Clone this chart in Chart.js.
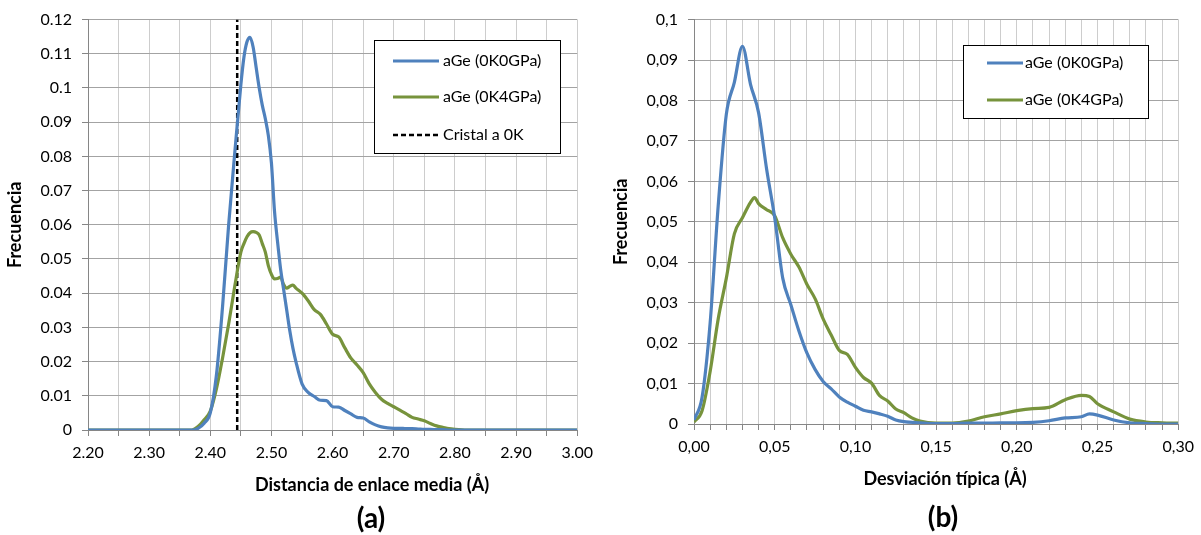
<!DOCTYPE html>
<html><head><meta charset="utf-8">
<script src="https://cdn.jsdelivr.net/npm/chart.js@4"></script>
<style>
html,body{margin:0;padding:0;background:#fff;width:1201px;height:535px;overflow:hidden;font-family:Lato,sans-serif;}
canvas{position:absolute;top:0;}
#cA{left:0}
#cB{left:600px}
.t{position:absolute;transform:translate(-50%,-50%);white-space:nowrap;color:#000;font-weight:bold;line-height:1;}
</style></head><body>
<canvas id="cA" width="600" height="500"></canvas>
<canvas id="cB" width="601" height="500"></canvas>
<div class="t" style="left:372px;top:484px;font-size:18px">Distancia de enlace media (Å)</div>
<div class="t" style="left:371px;top:517px;font-size:28px">(a)</div>
<div class="t" style="left:945px;top:478px;font-size:18px">Desviación típica (Å)</div>
<div class="t" style="left:943px;top:516px;font-size:28px">(b)</div>
<script>
// ---------- data (a) ----------
const seriesNames = ['aGe (0K0GPa)', 'aGe (0K4GPa)'];
const crystalName = 'Cristal a 0K';
const crystalX = 2.444;
const distA = [2.20,2.30,2.36,2.37,2.38,2.39,2.40,2.41,2.42,2.43,2.44,2.45,2.455,2.46,2.465,2.47,2.475,2.48,2.485,2.49,2.495,2.50,2.505,2.51,2.515,2.52,2.525,2.53,2.535,2.54,2.55,2.56,2.57,2.58,2.59,2.60,2.61,2.62,2.63,2.64,2.65,2.66,2.67,2.68,2.69,2.70,2.71,2.72,2.73,2.74,2.75,2.76,2.77,2.78,2.79,2.80,2.82,2.85,2.90,3.00];
const freqA0 = [0,0,0,0,0.0005,0.002,0.005,0.016,0.036,0.060,0.081,0.101,0.109,0.1135,0.1148,0.112,0.106,0.100,0.095,0.091,0.086,0.078,0.064,0.055,0.047,0.041,0.035,0.029,0.024,0.020,0.0135,0.011,0.0098,0.0087,0.0086,0.0068,0.0067,0.0057,0.0047,0.0037,0.0035,0.0024,0.0015,0.0009,0.0006,0.0005,0.0005,0.0004,0.0004,0.0003,0.0002,0.0002,0.0001,0.0001,0,0,0,0,0,0];
const freqA4 = [0,0,0,0,0.001,0.003,0.0055,0.012,0.021,0.031,0.042,0.052,0.0545,0.0565,0.0577,0.058,0.0578,0.057,0.0545,0.052,0.048,0.0455,0.0442,0.0443,0.0447,0.0425,0.0415,0.042,0.0424,0.0415,0.040,0.0378,0.0352,0.0338,0.031,0.028,0.0272,0.024,0.021,0.019,0.0168,0.0135,0.011,0.009,0.0078,0.0068,0.0058,0.0048,0.0037,0.0032,0.0027,0.0019,0.0012,0.0008,0.0004,0.0002,0,0,0,0];
// ---------- data (b) ----------
const devB0 = [0,0.005,0.01,0.015,0.02,0.025,0.03,0.035,0.04,0.045,0.05,0.055,0.06,0.065,0.07,0.075,0.08,0.085,0.09,0.095,0.10,0.105,0.11,0.115,0.12,0.125,0.13,0.14,0.15,0.16,0.17,0.18,0.19,0.20,0.21,0.22,0.23,0.24,0.245,0.25,0.26,0.27,0.28,0.29,0.30];
const freqB0 = [0.001,0.0066,0.025,0.054,0.0765,0.0845,0.0934,0.084,0.077,0.063,0.051,0.036,0.0295,0.023,0.0175,0.0135,0.0105,0.0087,0.0067,0.0054,0.0044,0.0034,0.003,0.0025,0.0019,0.001,0.0006,0.0003,0.0001,0.0001,0.0002,0.0002,0.0003,0.0003,0.0004,0.0008,0.0015,0.0018,0.0025,0.0022,0.001,0.0003,0.0001,0,0];
const devB4 = [0,0.005,0.01,0.015,0.02,0.025,0.03,0.035,0.0375,0.04,0.045,0.05,0.055,0.06,0.065,0.07,0.075,0.08,0.085,0.09,0.095,0.10,0.105,0.11,0.115,0.12,0.125,0.13,0.135,0.14,0.15,0.16,0.17,0.18,0.19,0.20,0.21,0.22,0.23,0.24,0.245,0.25,0.26,0.27,0.28,0.29,0.30];
const freqB4 = [0.0005,0.0033,0.013,0.026,0.036,0.047,0.051,0.0548,0.056,0.0545,0.053,0.0515,0.046,0.042,0.0388,0.0345,0.031,0.026,0.022,0.0182,0.0172,0.014,0.0115,0.0101,0.007,0.0057,0.0037,0.0028,0.0015,0.0007,0.0002,0.0002,0.0007,0.0018,0.0025,0.0033,0.0038,0.0041,0.006,0.0071,0.0068,0.005,0.003,0.0012,0.0005,0.0003,0.0002];

const BLUE = '#4F81BD', GREEN = '#77933C';
const H_GRID = '#a3a3a3', V_GRID = '#cdcdcd', AXIS = '#868686';
Chart.defaults.font.family = 'Lato';
Chart.defaults.color = '#000';

const pts = (xs, ys) => xs.map((x, i) => ({x, y: ys[i]}));

function boxLegend(box, rows, sample, textX) {
  return {
    id: 'boxLegend',
    afterDraw(chart) {
      const ctx = chart.ctx;
      ctx.save();
      ctx.fillStyle = '#fff';
      ctx.fillRect(box.x, box.y, box.w, box.h);
      ctx.strokeStyle = '#000';
      ctx.lineWidth = 1;
      ctx.strokeRect(box.x + 0.5, box.y + 0.5, box.w, box.h);
      chart.data.datasets.forEach((ds, i) => {
        const y = rows[i];
        ctx.beginPath();
        ctx.strokeStyle = ds.borderColor;
        ctx.lineWidth = ds.borderWidth;
        ctx.setLineDash(ds.borderDash || []);
        ctx.moveTo(sample[0], y);
        ctx.lineTo(sample[1], y);
        ctx.stroke();
        ctx.setLineDash([]);
        ctx.fillStyle = '#000';
        ctx.font = '16px Lato';
        ctx.textBaseline = 'middle';
        ctx.textAlign = 'left';
        ctx.fillText(ds.label, textX, y);
      });
      ctx.restore();
    }
  };
}

const lineDs = (label, data, color) => ({
  label, data, borderColor: color, backgroundColor: color, borderWidth: 3.2,
  pointRadius: 0, cubicInterpolationMode: 'monotone', fill: false
});

// ---------- chart (a) ----------
new Chart(document.getElementById('cA'), {
  type: 'line',
  data: {
    datasets: [
      lineDs(seriesNames[0], pts(distA, freqA0), BLUE),
      lineDs(seriesNames[1], pts(distA, freqA4), GREEN),
      {label: crystalName, data: [{x: crystalX, y: 0}, {x: crystalX, y: 0.12}],
       borderColor: '#000', borderWidth: 2.5, borderDash: [5, 3], pointRadius: 0, tension: 0}
    ]
  },
  options: {
    responsive: false, animation: false, devicePixelRatio: 1,
    layout: {padding: {left: 0, top: 14, right: 20, bottom: 0}},
    plugins: {legend: {display: false}, tooltip: {enabled: false}},
    scales: {
      x: {
        type: 'linear', min: 2.2, max: 3.0,
        afterFit: s => { s.height = 70; },
        ticks: {stepSize: 0.05, autoSkip: false, maxRotation: 0, minRotation: 0, padding: 7,
          font: {size: 16},
          callback: v => (Math.round(v * 100) % 10 === 0 ? v.toFixed(2) : '')},
        grid: {color: V_GRID, tickColor: AXIS, tickLength: 6, lineWidth: 1},
        border: {color: AXIS, width: 1}
      },
      y: {
        type: 'linear', min: 0, max: 0.12,
        afterFit: s => { s.width = 88; },
        title: {display: true, text: 'Frecuencia', font: {size: 18, weight: 'bold'}, padding: {top: 4, bottom: 0}},
        ticks: {stepSize: 0.01, padding: 10, font: {size: 16},
          callback: v => String(Math.round(v * 100) / 100)},
        grid: {color: H_GRID, tickColor: AXIS, tickLength: 6, lineWidth: 1},
        border: {color: AXIS, width: 1}
      }
    }
  },
  plugins: [boxLegend({x: 374, y: 40, w: 186, h: 113}, [61, 97, 135], [393, 439], 443)]
});

// ---------- chart (b) ----------
new Chart(document.getElementById('cB'), {
  type: 'line',
  data: {
    datasets: [
      lineDs(seriesNames[0], pts(devB0, freqB0), BLUE),
      lineDs(seriesNames[1], pts(devB4, freqB4), GREEN)
    ]
  },
  options: {
    responsive: false, animation: false, devicePixelRatio: 1,
    layout: {padding: {left: 0, top: 15, right: 22, bottom: 0}},
    plugins: {legend: {display: false}, tooltip: {enabled: false}},
    scales: {
      x: {
        type: 'linear', min: 0, max: 0.3,
        afterFit: s => { s.height = 76; },
        ticks: {stepSize: 0.01, autoSkip: false, maxRotation: 0, minRotation: 0, padding: 7,
          font: {size: 16},
          callback: v => (Math.round(v * 100) % 5 === 0 ? v.toFixed(2).replace('.', ',') : '')},
        grid: {color: V_GRID, tickColor: AXIS, tickLength: 6, lineWidth: 1},
        border: {color: AXIS, width: 1}
      },
      y: {
        type: 'linear', min: 0, max: 0.1,
        afterFit: s => { s.width = 94; },
        title: {display: true, text: 'Frecuencia', font: {size: 18, weight: 'bold'}, padding: {top: 10, bottom: 0}},
        ticks: {stepSize: 0.01, padding: 10, font: {size: 16},
          callback: v => String(Math.round(v * 100) / 100).replace('.', ',')},
        grid: {color: H_GRID, tickColor: AXIS, tickLength: 6, lineWidth: 1},
        border: {color: AXIS, width: 1}
      }
    }
  },
  plugins: [boxLegend({x: 363, y: 45, w: 185, h: 73}, [63, 100], [387, 423], 425)]
});
</script>
</body></html>
